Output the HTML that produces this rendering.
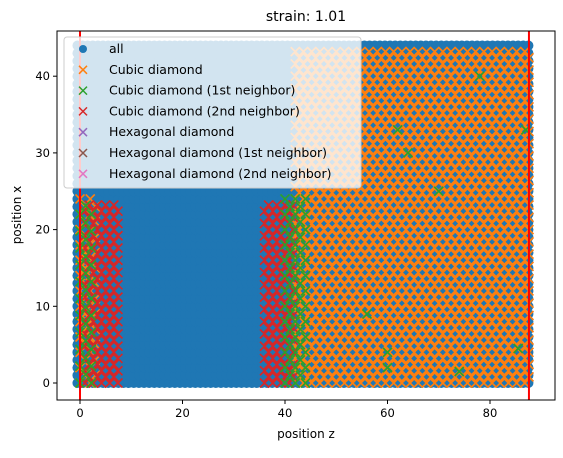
<!DOCTYPE html>
<html><head><meta charset="utf-8"><style>
body{margin:0;background:#fff;font-family:"Liberation Sans","DejaVu Sans",sans-serif;}
svg text{font-family:"DejaVu Sans","Liberation Sans",sans-serif;}
</style></head><body>
<svg id="chart" width="563" height="453" viewBox="0 0 563 453" xmlns="http://www.w3.org/2000/svg">
<rect width="563" height="453" fill="#fff"/>
<text x="306" y="21" font-size="14" text-anchor="middle">strain: 1.01</text>
<defs><clipPath id="clip"><rect x="57" y="31" width="498" height="369"/></clipPath></defs>
<g id="plot" clip-path="url(#clip)"></g>
<rect x="57" y="31" width="498" height="369" fill="none" stroke="#000" stroke-width="1"/>
<g id="axes"></g>
<g id="legend"></g>
<text x="306" y="438" font-size="12" text-anchor="middle">position z</text>
<text transform="translate(21,215) rotate(-90)" font-size="12" text-anchor="middle">position x</text>
</svg>
<script>
const xTicks=[0,20,40,60,80];
const yTicks=[0,10,20,30,40];
const boxLines=[0,87.6];
// bands: [zMin,zMax,xMin,xMax,step]
const allBand=[-0.5,88,0,44,1.0];
const cubicBands=[[42,88,0,43.5,1.6],[0,3,0,24,2.0]];
const firstBands=[[0,3,0,24,2.2],[40,44,0,24,2.0]];
const firstScatter=[[56,9],[60,4],[60,2],[74,1.5],[85.5,4.5],[64,30],[78,40],[70,25],[62,33],[87,33]];
const secondBands=[[1,8,0,24,1.6],[36,42,0,24,1.6]];
const sz=v=>80+(v)*5.125, sx=v=>383-v*7.67;
const NS="http://www.w3.org/2000/svg";
const plot=document.getElementById('plot'), axes=document.getElementById('axes'), leg=document.getElementById('legend');
function mk(t,a,p){const e=document.createElementNS(NS,t);for(const k in a)e.setAttribute(k,a[k]);p.appendChild(e);return e;}
function cross(p,z,x,c){const X=sz(z),Y=sx(x),r=4.5;
 const g=mk('path',{d:`M${X-r},${Y-r}L${X+r},${Y+r}M${X-r},${Y+r}L${X+r},${Y-r}`,stroke:c,'stroke-width':1.7,fill:'none'},p);
 
 }
const gAll=mk('g',{fill:'#1f77b4'},plot);


for(let z=allBand[0];z<=allBand[1];z+=allBand[4])for(let x=allBand[2];x<=allBand[3];x+=allBand[4]){
 mk('circle',{cx:sz(z),cy:sx(x),r:5},gAll);}
function band(arr,c,name){const g=mk('g',{},plot);
 
 
 arr.forEach(b=>{let k=0;for(let z=b[0];z<=b[1];z+=b[4]/2,k++)for(let x=b[2]+(k%2)*b[4]/2;x<=b[3];x+=b[4])cross(g,z,x,c);});return g;}
band(cubicBands,'#ff7f0e','series-cubic');
band(secondBands,'#d62728','series-cubic-2nd');
const g1=band(firstBands,'#2ca02c','series-cubic-1st');
firstScatter.forEach(p=>cross(g1,p[0],p[1],'#2ca02c'));
boxLines.forEach(v=>{const l=mk('line',{x1:sz(v),x2:sz(v),y1:31,y2:400,stroke:'#f00','stroke-width':2},plot);
 
 });
xTicks.forEach(v=>{mk('line',{x1:sz(v),x2:sz(v),y1:400,y2:404,stroke:'#000'},axes);
 const t=mk('text',{x:sz(v),y:417,'font-size':11.5,'text-anchor':'middle'},axes);t.textContent=v;
 
 });
yTicks.forEach(v=>{mk('line',{x1:53,x2:57,y1:sx(v),y2:sx(v),stroke:'#000'},axes);
 const t=mk('text',{x:50,y:sx(v)+4,'font-size':11.5,'text-anchor':'end'},axes);t.textContent=v;
 
 });
mk('rect',{x:64,y:37,width:297,height:151,rx:3,fill:'#fff','fill-opacity':0.8,stroke:'#ccc'},leg);
const labels=['all','Cubic diamond','Cubic diamond (1st neighbor)','Cubic diamond (2nd neighbor)','Hexagonal diamond','Hexagonal diamond (1st neighbor)','Hexagonal diamond (2nd neighbor)'];
const cols=['#1f77b4','#ff7f0e','#2ca02c','#d62728','#9467bd','#8c564b','#e377c2'];
labels.forEach((s,i)=>{const y=49+i*20.8;
 if(i==0)mk('circle',{cx:83,cy:y,r:4,fill:cols[0]},leg);
 else mk('path',{d:`M79,${y-4}L87,${y+4}M79,${y+4}L87,${y-4}`,stroke:cols[i],'stroke-width':1.5},leg);
 const t=mk('text',{x:109,y:y+4,'font-size':12.5},leg);t.textContent=s;
 
 });
</script>
</body></html>
